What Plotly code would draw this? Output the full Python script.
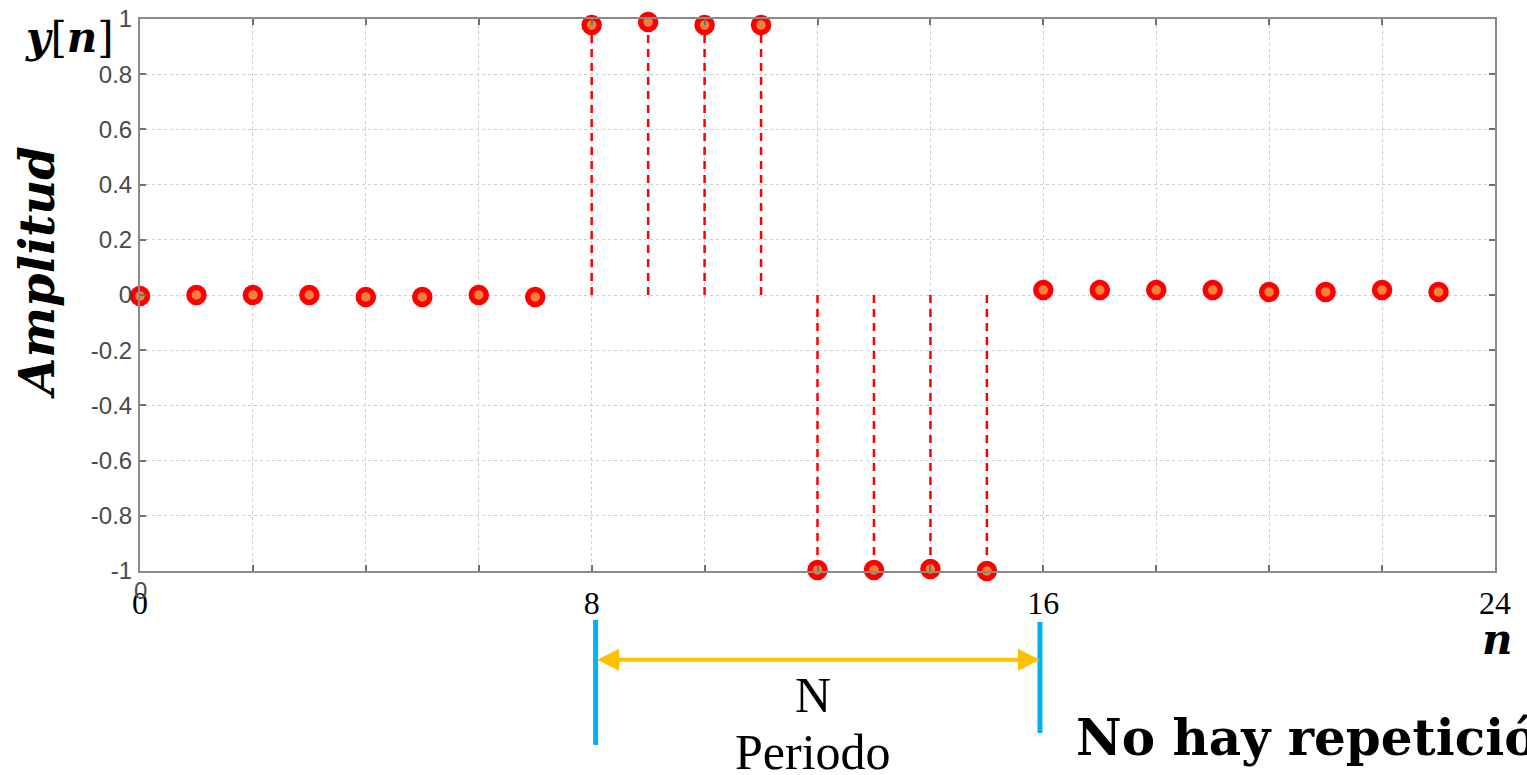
import plotly.graph_objects as go

# ---------------- data ----------------
n = list(range(24))
y = [-0.004, 0.0, 0.0, 0.0, -0.007, -0.007, 0.0, -0.007,
     0.978, 0.989, 0.978, 0.978,
     -0.996, -0.996, -0.993, -1.0,
     0.018, 0.018, 0.018, 0.018, 0.011, 0.011, 0.018, 0.011]
stem_n = [8, 9, 10, 11, 12, 13, 14, 15]

x_tickvals = list(range(0, 25, 2))
x_ticktext = ["0", "", "", "", "8", "", "", "", "16", "", "", "", "24"]
y_tickvals = [-1, -0.8, -0.6, -0.4, -0.2, 0, 0.2, 0.4, 0.6, 0.8, 1]
y_ticktext = ["-1", "-0.8", "-0.6", "-0.4", "-0.2", "0", "0.2", "0.4", "0.6", "0.8", "1"]

period_start, period_end = 8.07, 15.94

# ---------------- stems ----------------
sx, sy = [], []
for k in stem_n:
    sx += [n[k], n[k], None]
    sy += [0, y[k], None]

fig = go.Figure()
fig.add_trace(go.Scatter(x=sx, y=sy, mode="lines",
                         line=dict(color="#ff0000", width=2.5, dash="8px,6px"),
                         hoverinfo="skip", cliponaxis=False))
fig.add_trace(go.Scatter(x=n, y=y, mode="markers",
                         marker=dict(size=15, color="#f0823c",
                                     line=dict(color="#ff0000", width=5.5)),
                         cliponaxis=False))

serif = "Liberation Serif"
bserif = "DejaVu Serif"
sans = "Liberation Sans"

fig.update_layout(
    width=1527, height=775,
    margin=dict(l=140, r=32, t=19, b=204, autoexpand=False),
    paper_bgcolor="white", plot_bgcolor="white",
    showlegend=False,
    xaxis=dict(range=[0, 24], tickvals=x_tickvals, ticktext=x_ticktext,
               ticks="inside", ticklen=6, tickwidth=2, tickcolor="#707070",
               showline=True, linecolor="#8a8a8a", linewidth=2, mirror="ticks",
               showgrid=True, gridcolor="#cdcdcd", griddash="dot", gridwidth=1,
               zeroline=False, ticklabelstandoff=3,
               tickfont=dict(family=serif, size=32, color="black")),
    yaxis=dict(range=[-1, 1], tickvals=y_tickvals, ticktext=y_ticktext,
               ticks="inside", ticklen=6, tickwidth=2, tickcolor="#707070",
               showline=True, linecolor="#8a8a8a", linewidth=2, mirror="ticks",
               showgrid=True, gridcolor="#cdcdcd", griddash="dot", gridwidth=1,
               zeroline=False, ticklabelstandoff=1,
               tickfont=dict(family=sans, size=24, color="#4a4a4a")),
)

def txt(x, y, text, size, family, **kw):
    d = dict(x=x, y=y, xref="paper", yref="paper", showarrow=False,
             xanchor="center", yanchor="middle", text=text,
             font=dict(family=family, size=size, color="black"))
    d.update(kw)
    return d

ann = []
# MATLAB style x tick label "0"
ann.append(dict(x=0, y=-1, xref="x", yref="y", yshift=-19, showarrow=False,
                xanchor="center", yanchor="middle",
                text="0", font=dict(family=sans, size=24, color="#4a4a4a")))
ann.append(txt(-0.052, 0.966, "<b><i>y</i></b>[<b><i>n</i></b>]", 42, bserif))
ann.append(txt(-0.076, 0.54, "<b><i>Amplitud</i></b>", 48, bserif, textangle=-90))
ann.append(txt(1.0015, -0.124, "<b><i>n</i></b>", 42, bserif))
ann.append(txt(0.4967, -0.2246, "N", 50, serif))
ann.append(txt(0.4967, -0.328, "Periodo", 50, serif))
ann.append(txt(0.6893, -0.302, "<b>No hay repetición</b>", 50, bserif, xanchor="left"))
# double arrow for the period
ann.append(dict(x=period_end, y=-0.161, xref="x", yref="paper",
                ax=-(period_end - period_start) * 1355 / 24, ay=0,
                axref="pixel", ayref="pixel", text="", showarrow=True,
                arrowside="end+start", arrowhead=2, arrowsize=1.1,
                arrowwidth=4, arrowcolor="#ffc000"))
fig.update_layout(annotations=ann)

# blue period markers
fig.add_shape(type="line", xref="x", yref="paper", x0=period_start, x1=period_start,
              y0=-0.0888, y1=-0.315, line=dict(color="#00b0f0", width=5))
fig.add_shape(type="line", xref="x", yref="paper", x0=period_end, x1=period_end,
              y0=-0.0924, y1=-0.2935, line=dict(color="#00b0f0", width=5))

fig.write_html("out.html", config={"displayModeBar": False},
               post_script="document.body.style.margin='0';"
                           "document.body.style.overflow='hidden';")
